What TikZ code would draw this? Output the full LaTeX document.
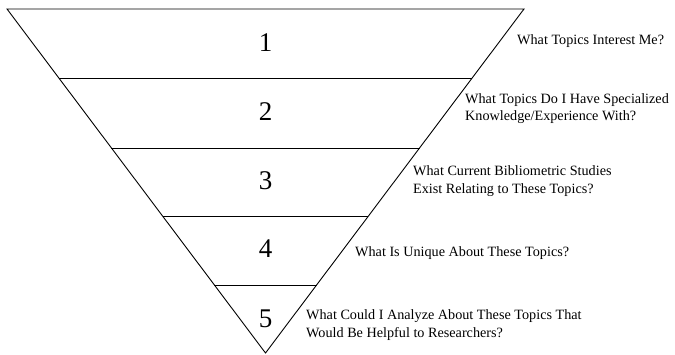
\documentclass[tikz,border=0pt]{standalone}
\usepackage{fontspec}
\setmainfont{Liberation Serif}
\begin{document}
\begin{tikzpicture}[x=1pt,y=-1pt,
  edge/.style={draw=black,line width=0.9pt},
  num/.style={font=\fontsize{27}{30}\selectfont,inner sep=0pt},
  lab/.style={font=\fontsize{14.2}{17.5}\selectfont,anchor=west,align=left,inner sep=0pt}]
\useasboundingbox (0,0) rectangle (675,355);
\coordinate (tl) at (7,9);
\coordinate (tr) at (524,9);
\coordinate (ap) at (265.5,353);
\draw[edge,line join=miter] (tl) -- (tr) -- (ap) -- cycle;
% divider lines
\foreach \i/\y in {a/78,b/148,c/216,d/285}{
  \pgfmathsetmacro{\hw}{(353-\y)/344*258.5}
  \coordinate (\i l) at ({265.5-\hw},\y);
  \coordinate (\i r) at ({265.5+\hw},\y);
}
\draw[edge] (al) -- (ar);
\draw[edge] (bl) -- (br);
\draw[edge] (cl) -- (cr);
\draw[edge] (dl) -- (dr);
\node[num] (n1) at (265.5,43) {1};
\node[num] (n2) at (265.5,112) {2};
\node[num] (n3) at (265.5,181) {3};
\node[num] (n4) at (265.5,249) {4};
\node[num] (n5) at (265.5,319) {5};
\node[lab] (t1) at (517,41) {What Topics Interest Me?};
\node[lab] (t2) at (465,108.5) {What Topics Do I Have Specialized\\Knowledge/Experience With?};
\node[lab] (t3) at (413,181) {What Current Bibliometric Studies\\Exist Relating to These Topics?};
\node[lab] (t4) at (355,253) {What Is Unique About These Topics?};
\node[lab] (t5) at (306,325) {What Could I Analyze About These Topics That\\Would Be Helpful to Researchers?};
\end{tikzpicture}
\end{document}
